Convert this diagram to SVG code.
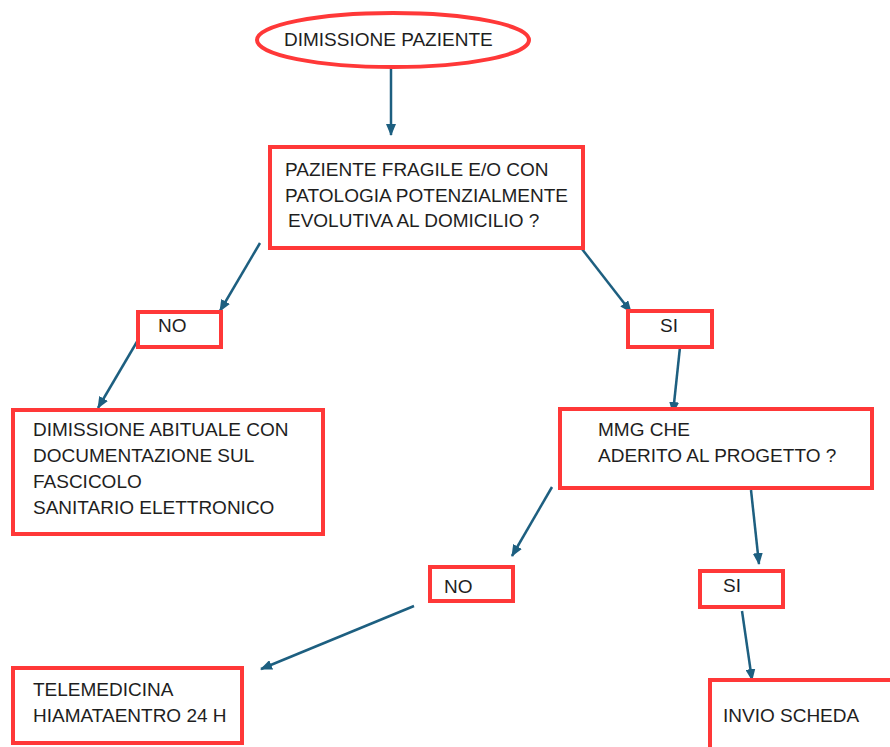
<svg xmlns="http://www.w3.org/2000/svg" width="890" height="747" viewBox="0 0 890 747">
<defs>
<style>
.box{fill:#fff;stroke:#ff3838;stroke-width:4}
.t{font-family:"Liberation Sans",Arial,sans-serif;font-size:19px;fill:#1e1e1e}
.c{stroke:#1d5f80;stroke-width:2.5;fill:none;marker-end:url(#ah)}
</style>
<marker id="ah" markerUnits="userSpaceOnUse" markerWidth="12" markerHeight="10" refX="11" refY="5" orient="auto">
<path d="M0,0 L12,5 L0,10 z" fill="#1d5f80"/>
</marker>
</defs>
<rect width="890" height="747" fill="#fff"/>
<g id="connectors">
<line class="c" x1="391" y1="68" x2="391" y2="135"/>
<line class="c" x1="260" y1="243" x2="220" y2="311"/>
<line class="c" x1="138" y1="340" x2="98" y2="408"/>
<line class="c" x1="582" y1="249" x2="631" y2="312"/>
<line class="c" x1="680" y1="347" x2="673" y2="413"/>
<line class="c" x1="552" y1="487" x2="512" y2="556"/>
<line class="c" x1="414" y1="606" x2="261" y2="669"/>
<line class="c" x1="751" y1="490" x2="759" y2="564"/>
<line class="c" x1="742" y1="611" x2="752" y2="680"/>
</g>
<g id="start">
<ellipse class="box" cx="393" cy="40" rx="136" ry="27"/>
<text class="t" x="284" y="46">DIMISSIONE PAZIENTE</text>
</g>
<g id="q1">
<rect class="box" x="270" y="147" width="313" height="101"/>
<text class="t" x="285" y="176">PAZIENTE FRAGILE E/O CON</text>
<text class="t" x="285" y="201.5">PATOLOGIA POTENZIALMENTE</text>
<text class="t" x="288" y="227">EVOLUTIVA AL DOMICILIO ?</text>
</g>
<g id="no1">
<rect class="box" x="138" y="312" width="83" height="35"/>
<text class="t" x="158" y="332">NO</text>
</g>
<g id="si1">
<rect class="box" x="628" y="311" width="84" height="36"/>
<text class="t" x="660" y="332">SI</text>
</g>
<g id="dimissione">
<rect class="box" x="13" y="410" width="310" height="124"/>
<text class="t" x="33" y="436">DIMISSIONE ABITUALE CON</text>
<text class="t" x="33" y="462">DOCUMENTAZIONE SUL</text>
<text class="t" x="33" y="488">FASCICOLO</text>
<text class="t" x="33" y="514">SANITARIO ELETTRONICO</text>
</g>
<g id="q2">
<rect class="box" x="560" y="409" width="312" height="79"/>
<text class="t" x="598" y="436">MMG CHE</text>
<text class="t" x="598" y="462">ADERITO AL PROGETTO ?</text>
</g>
<g id="no2">
<rect class="box" x="430" y="567" width="83" height="34"/>
<text class="t" x="444" y="593">NO</text>
</g>
<g id="si2">
<rect class="box" x="700" y="571" width="83" height="36"/>
<text class="t" x="723" y="592">SI</text>
</g>
<g id="telemedicina">
<rect class="box" x="13" y="668" width="229" height="75"/>
<text class="t" x="33" y="696">TELEMEDICINA</text>
<text class="t" x="33" y="722">HIAMATAENTRO 24 H</text>
</g>
<g id="invio">
<rect class="box" x="710" y="680" width="200" height="80"/>
<text class="t" x="723" y="722">INVIO SCHEDA</text>
</g>
</svg>
